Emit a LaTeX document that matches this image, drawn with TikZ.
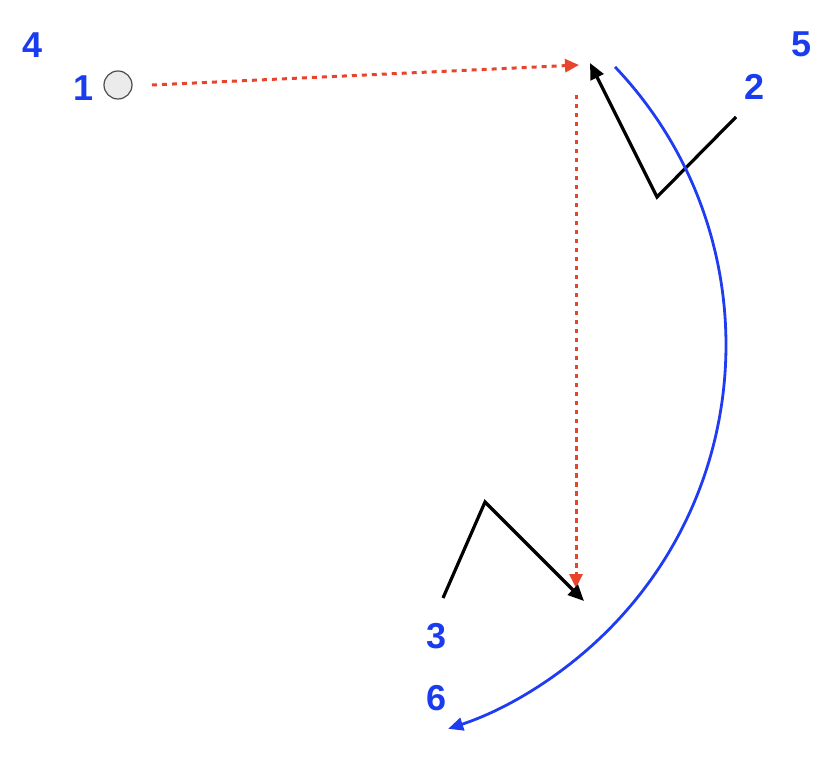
\documentclass[tikz,border=0pt]{standalone}
\usepackage{fontspec}
\setmainfont{Liberation Sans}
\usetikzlibrary{arrows.meta,calc}
\definecolor{lblblue}{HTML}{1A3CF0}
\definecolor{arcblue}{HTML}{1F3CF0}
\definecolor{dotred}{HTML}{E8432B}
\tikzset{
  lbl/.style={text=lblblue,font=\fontsize{36}{36}\selectfont\bfseries,inner sep=0pt,anchor=center},
  reddot/.style={draw=dotred,line width=3pt,dash pattern=on 5pt off 5pt,-{Triangle[length=14pt,width=13pt]}},
  blackarrow/.style={draw=black,line width=3.2pt,-{Triangle[length=16pt,width=14pt]}},
  bluearc/.style={draw=arcblue,line width=2.8pt,-{Triangle[length=15pt,width=13pt]}},
  ball/.style={circle,draw=black!70,fill=black!8,line width=1.2pt,minimum size=28pt,inner sep=0pt}
}
\begin{document}
\begin{tikzpicture}[x=1pt,y=1pt]
\useasboundingbox (0,0) rectangle (830,756);
% labels
\node[lbl] (l4) at (33,711) {4};
\node[lbl] (l1) at (84,668) {1};
\node[lbl] (l5) at (802,712) {5};
\node[lbl] (l2) at (755,669) {2};
\node[lbl] (l3) at (437,120) {3};
\node[lbl] (l6) at (437,58) {6};
% ball
\node[ball] (ball) at (118,671) {};
% coordinates
\coordinate (r1s) at (152,671);
\coordinate (r1e) at (579,691);
\coordinate (r2s) at (576,661);
\coordinate (r2e) at (576,168);
\coordinate (a1s) at (736,639);
\coordinate (a1m) at (657,559);
\coordinate (a1e) at (590,693);
\coordinate (a2s) at (443,158);
\coordinate (a2m) at (485,254);
\coordinate (a2e) at (584,155);
\coordinate (arcc) at (322,411);
\coordinate (arcs) at ($(arcc)+(43.5:404)$);
% red dotted arrows
\draw[reddot] (r1s) -- (r1e);
\draw[reddot,dash pattern=on 4.5pt off 4.5pt] (r2s) -- (r2e);
% black arrows
\draw[blackarrow,line join=miter] (a1s) -- (a1m) -- (a1e);
\draw[blackarrow,line join=miter] (a2s) -- (a2m) -- (a2e);
% blue arc
\draw[bluearc] (arcs) arc[start angle=43.5,end angle=-71.8,radius=404];
\end{tikzpicture}
\end{document}
